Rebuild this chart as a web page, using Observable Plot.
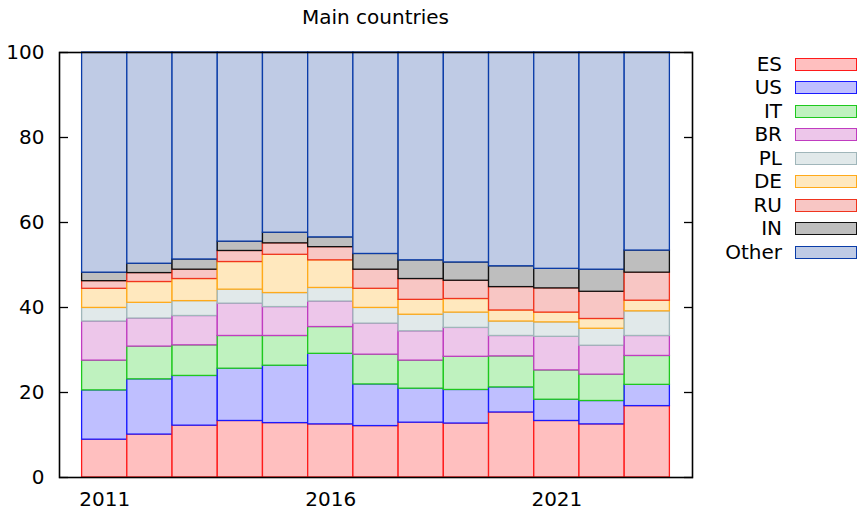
<!DOCTYPE html>
<html>
<head>
<meta charset="utf-8">
<script src="https://cdn.jsdelivr.net/npm/d3@7"></script>
<script src="https://cdn.jsdelivr.net/npm/@observablehq/plot@0.6"></script>
<style>
  html, body { margin: 0; padding: 0; background: #fff; }
  #wrap { position: relative; width: 858px; height: 510px; font-family: "DejaVu Sans", sans-serif; }
  #title { position: absolute; left: 0; width: 751px; top: 5px; text-align: center; font-size: 20px; color: #000; }
  #legend { position: absolute; left: 700px; top: 0; width: 158px; height: 270px; }
  .row { position: absolute; left: 0; width: 158px; height: 24px; }
  .lab { position: absolute; right: 76px; top: 0; line-height: 24px; font-size: 20px; color: #000; }
  .sw { position: absolute; left: 95px; top: 6px; width: 60px; height: 11px; border-width: 1.3px; border-style: solid; }
</style>
</head>
<body>
<div id="wrap">
  <div id="chart"></div>
  <div id="title">Main countries</div>
  <div id="legend"></div>
</div>
<script>
const years = [2011, 2012, 2013, 2014, 2015, 2016, 2017, 2018, 2019, 2020, 2021, 2022, 2023];
const countries = ["ES", "US", "IT", "BR", "PL", "DE", "RU", "IN", "Other"];
const ES    = [8.9, 10.1, 12.2, 13.3, 12.8, 12.5, 12.1, 12.9, 12.7, 15.3, 13.3, 12.5, 16.8];
const US    = [11.6, 13.0, 11.7, 12.3, 13.5, 16.6, 9.8, 8.0, 7.9, 5.9, 5.0, 5.5, 5.0];
const IT    = [7.0, 7.7, 7.2, 7.7, 7.0, 6.3, 7.0, 6.6, 7.8, 7.3, 6.9, 6.2, 6.8];
const BR    = [9.2, 6.6, 6.9, 7.6, 6.8, 6.0, 7.3, 6.9, 6.8, 4.8, 7.9, 6.8, 4.7];
const PL    = [3.2, 3.7, 3.5, 3.3, 3.3, 3.2, 3.7, 3.9, 3.6, 3.4, 3.4, 4.0, 5.8];
const DE    = [4.5, 4.9, 5.2, 6.5, 9.0, 6.5, 4.5, 3.5, 3.2, 2.6, 2.3, 2.3, 2.5];
const RU    = [1.8, 2.1, 2.2, 2.6, 2.7, 3.1, 4.5, 4.9, 4.3, 5.5, 5.7, 6.4, 6.6];
const IN    = [2.0, 2.2, 2.4, 2.2, 2.5, 2.3, 3.7, 4.4, 4.3, 4.9, 4.6, 5.2, 5.2];
const Other = [51.8, 49.7, 48.7, 44.5, 42.4, 43.5, 47.4, 48.9, 49.4, 50.3, 50.9, 51.1, 46.6];
const xTicks = [2011, 2016, 2021];
const yTicks = [0, 20, 40, 60, 80, 100];

const fills   = ["#ffbfbf", "#bfbfff", "#bff2bf", "#edc6ea", "#e1e9ea", "#ffe8be", "#f8c6c4", "#bebebe", "#bfcbe5"];
const strokes = ["#ff1a1a", "#1a1aff", "#1ec81e", "#c03cc0", "#a0b6ba", "#ffaa1a", "#f0341e", "#111111", "#0a3ca8"];

const seriesList = [ES, US, IT, BR, PL, DE, RU, IN, Other];
const data = years.flatMap((yr, i) => seriesList.map((s, j) => ({year: yr, country: countries[j], value: s[i]})));
const fillOf = Object.fromEntries(countries.map((c, j) => [c, fills[j]]));
const strokeOf = Object.fromEntries(countries.map((c, j) => [c, strokes[j]]));

const chart = Plot.plot({
  width: 858,
  height: 510,
  marginLeft: 59,
  marginRight: 166,
  marginTop: 52,
  marginBottom: 33,
  style: {fontFamily: "DejaVu Sans, sans-serif", fontSize: "20px", color: "#000", background: "#fff"},
  x: {type: "linear", domain: [2010, 2024]},
  y: {domain: [0, 100]},
  color: {type: "identity"},
  marks: [
    Plot.rectY(data, {
      x1: d => d.year - 0.5,
      x2: d => d.year + 0.5,
      y: "value",
      z: "country",
      order: countries,
      fill: d => fillOf[d.country],
      stroke: d => strokeOf[d.country],
      strokeWidth: 1.3
    }),
    Plot.axisY(yTicks, {tickSize: 0, tickPadding: 15, label: null, tickFormat: d => String(d)}),
    Plot.axisY(yTicks, {tickSize: -9, tickFormat: () => "", label: null, strokeWidth: 1.3}),
    Plot.axisY(yTicks, {anchor: "right", tickSize: -9, tickFormat: () => "", label: null, strokeWidth: 1.3}),
    Plot.axisX(xTicks, {tickSize: 0, tickPadding: 14, label: null, tickFormat: d => String(d)}),
    Plot.frame({stroke: "#000", strokeWidth: 1.6})
  ]
});
document.getElementById("chart").appendChild(chart);

const legend = document.getElementById("legend");
countries.forEach((c, j) => {
  const row = document.createElement("div");
  row.className = "row";
  row.style.top = (52 + 23.46 * j) + "px";
  const lab = document.createElement("div");
  lab.className = "lab";
  lab.textContent = c;
  const sw = document.createElement("div");
  sw.className = "sw";
  sw.style.background = fills[j];
  sw.style.borderColor = strokes[j];
  row.appendChild(lab);
  row.appendChild(sw);
  legend.appendChild(row);
});
</script>
</body>
</html>
